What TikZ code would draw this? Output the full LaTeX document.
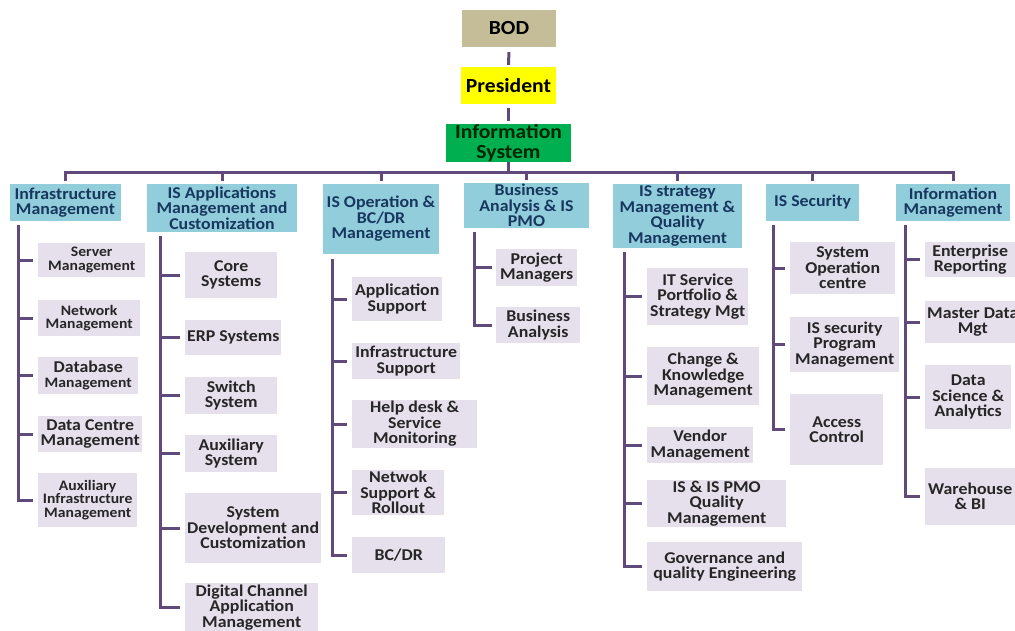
\documentclass[tikz,border=0pt]{standalone}
\usepackage{fontspec}
\setmainfont{Carlito}[FakeStretch=1.08]
\definecolor{bodtan}{RGB}{196,189,151}
\definecolor{presyellow}{RGB}{255,255,0}
\definecolor{isgreen}{RGB}{0,176,80}
\definecolor{hdrblue}{RGB}{146,205,220}
\definecolor{hdrtext}{RGB}{23,55,94}
\definecolor{kidgray}{RGB}{229,224,236}
\definecolor{kidtext}{RGB}{38,38,38}
\definecolor{treepurple}{RGB}{96,74,123}
\newcommand{\kidsmall}{\fontsize{14.5}{13.5}\selectfont}
\usetikzlibrary{positioning}

\begin{document}
\begin{tikzpicture}[
    x=1pt, y=-1pt,
    topbox/.style={rectangle, inner sep=1pt, align=center, text=black,
      font=\bfseries\fontsize{20}{20}\selectfont},
    hdr/.style={rectangle, fill=hdrblue, text=hdrtext, inner xsep=2pt, inner ysep=1pt,
      align=center, font=\bfseries\fontsize{16.5}{15.5}\selectfont},
    kid/.style={rectangle, fill=kidgray, text=kidtext, anchor=west, inner xsep=2pt,
      inner ysep=1pt, align=center, font=\bfseries\fontsize{16.5}{15.5}\selectfont},
    tree/.style={draw=treepurple, line width=3pt}
]
  \fill[white] (0,0) rectangle (1015,630);
  \useasboundingbox (0,0) rectangle (1015,630);

  % Top of the chart
  \node[topbox, fill=bodtan, minimum width=94pt, minimum height=37pt] (bod) at (509,28.5) {BOD};
  \node[topbox, fill=presyellow, minimum width=95pt, minimum height=37pt] (pres) at (508.5,85.5) {President};
  \node[topbox, fill=isgreen, text=black!85!green, minimum width=125pt, minimum height=38pt, inner ysep=0pt] (infosys) at (508.5,143) {Information\\System};
  \draw[tree, shorten <=5pt, shorten >=2pt] (bod) -- (pres);
  \draw[tree, shorten <=4pt, shorten >=3pt] (pres) -- (infosys);

  % Department heads
  \node[hdr, minimum width=111pt, minimum height=37pt] (h1) at (65.5,202.5) {Infrastructure\\Management};
  \node[hdr, minimum width=150pt, minimum height=48pt] (h2) at (222,208) {IS Applications\\Management and\\Customization};
  \node[hdr, minimum width=116pt, minimum height=70pt] (h3) at (381,219) {IS Operation \&\\BC/DR\\Management};
  \node[hdr, minimum width=125pt, minimum height=43pt] (h4) at (526.5,205.5) {Business\\Analysis \& IS\\PMO};
  \node[hdr, minimum width=129pt, minimum height=64pt] (h5) at (677.5,216) {IS strategy\\Management \&\\Quality\\Management};
  \node[hdr, minimum width=93pt, minimum height=37pt] (h6) at (812.5,202.5) {IS Security};
  \node[hdr, minimum width=114pt, minimum height=37pt] (h7) at (953,202.5) {Information\\Management};

  % Bus
  \coordinate (bus) at (508.5,172);
  \draw[tree] (infosys) -- (bus);
  \foreach \h in {h1,h2,h3,h4,h5,h6,h7}{
    \draw[tree, shorten >=3pt] (bus) -| (\h.north);
  }

  % Infrastructure Management
  \node[kid, minimum width=107pt, minimum height=34pt, font=\bfseries\kidsmall] (c11) at (38,260) {Server\\Management};
  \node[kid, minimum width=102pt, minimum height=36pt, font=\bfseries\kidsmall] (c12) at (38,318) {Network\\Management};
  \node[kid, minimum width=100pt, minimum height=37pt] (c13) at (38,375.5) {Database\\{\kidsmall Management}};
  \node[kid, minimum width=104pt, minimum height=36pt] (c14) at (38,434) {Data Centre\\Management};
  \node[kid, minimum width=99pt, minimum height=54pt, font=\bfseries\kidsmall] (c15) at (38,500) {Auxiliary\\Infrastructure\\Management};

  % IS Applications Management and Customization
  \node[kid, minimum width=92pt, minimum height=46pt] (c21) at (185,275) {Core\\Systems};
  \node[kid, minimum width=92pt, minimum height=35pt] (c22) at (185,337.5) {ERP Systems};
  \node[kid, minimum width=92pt, minimum height=37pt] (c23) at (185,395.5) {Switch\\System};
  \node[kid, minimum width=92pt, minimum height=37pt] (c24) at (185,453.5) {Auxiliary\\System};
  \node[kid, minimum width=133pt, minimum height=70pt] (c25) at (185,528) {System\\Development and\\Customization};
  \node[kid, minimum width=133pt, minimum height=49pt] (c26) at (185,607.5) {Digital Channel\\Application\\Management};

  % IS Operation & BC/DR Management
  \node[kid, minimum width=90pt, minimum height=44pt] (c31) at (352,299) {Application\\Support};
  \node[kid, minimum width=108pt, minimum height=36pt] (c32) at (352,361) {Infrastructure\\Support};
  \node[kid, minimum width=125pt, minimum height=48pt] (c33) at (352,424) {Help desk \&\\Service\\Monitoring};
  \node[kid, minimum width=92pt, minimum height=45pt] (c34) at (352,492.5) {Netwok\\Support \&\\Rollout};
  \node[kid, minimum width=93pt, minimum height=36pt] (c35) at (352,555) {BC/DR};

  % Business Analysis & IS PMO
  \node[kid, minimum width=81pt, minimum height=37pt] (c41) at (496,267.5) {Project\\Managers};
  \node[kid, minimum width=84pt, minimum height=36pt] (c42) at (496,325) {Business\\Analysis};

  % IS strategy Management & Quality Management
  \node[kid, minimum width=101pt, minimum height=57pt] (c51) at (647,296.5) {IT Service\\Portfolio \&\\Strategy Mgt};
  \node[kid, minimum width=112pt, minimum height=58pt] (c52) at (647,376) {Change \&\\Knowledge\\Management};
  \node[kid, minimum width=106pt, minimum height=36pt] (c53) at (647,445) {Vendor\\Management};
  \node[kid, minimum width=139pt, minimum height=37pt] (c54) at (647,503.5) {IS \& IS PMO\\Quality\\Management};
  \node[kid, minimum width=155pt, minimum height=49pt] (c55) at (647,566.5) {Governance and\\quality Engineering};

  % IS Security
  \node[kid, minimum width=105pt, minimum height=52pt] (c61) at (790,268) {System\\Operation\\centre};
  \node[kid, minimum width=109pt, minimum height=55pt] (c62) at (790,344.5) {IS security\\Program\\Management};
  \node[kid, minimum width=93pt, minimum height=71pt] (c63) at (790,429.5) {Access\\Control};

  % Information Management
  \node[kid, minimum width=90pt, minimum height=35pt] (c71) at (925,259.5) {Enterprise\\Reporting};
  \node[kid, minimum width=90pt, minimum height=42pt] (c72) at (925,322) {Master Data\\Mgt};
  \node[kid, minimum width=86pt, minimum height=64pt] (c73) at (925,397) {Data\\Science \&\\Analytics};
  \node[kid, minimum width=90pt, minimum height=57pt] (c74) at (925,496.5) {Warehouse\\\& BI};

  % Stems
  \coordinate (s1) at (18,225);
  \coordinate (s2) at (160,236);
  \coordinate (s3) at (332,259);
  \coordinate (s4) at (474,232);
  \coordinate (s5) at (624,252);
  \coordinate (s6) at (773,225);
  \coordinate (s7) at (905,225);
  \foreach \k in {c11,c12,c13,c14,c15}{
    \draw[tree, shorten >=5pt] (s1) |- (\k.west);
  }
  \foreach \k in {c21,c22,c23,c24,c25,c26}{
    \draw[tree, shorten >=5pt] (s2) |- (\k.west);
  }
  \foreach \k in {c31,c32,c33,c34,c35}{
    \draw[tree, shorten >=5pt] (s3) |- (\k.west);
  }
  \foreach \k in {c41,c42}{
    \draw[tree, shorten >=4pt] (s4) |- (\k.west);
  }
  \foreach \k in {c51,c52,c53,c54,c55}{
    \draw[tree, shorten >=5pt] (s5) |- (\k.west);
  }
  \foreach \k in {c61,c62,c63}{
    \draw[tree, shorten >=5pt] (s6) |- (\k.west);
  }
  \foreach \k in {c71,c72,c73,c74}{
    \draw[tree, shorten >=5pt] (s7) |- (\k.west);
  }
\end{tikzpicture}
\end{document}
